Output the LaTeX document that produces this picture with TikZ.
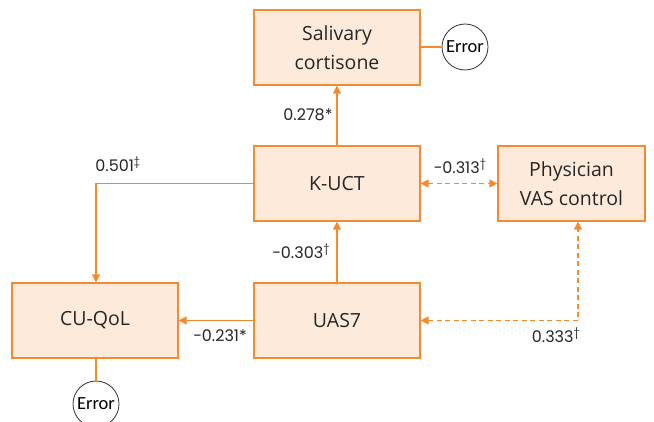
\documentclass[tikz,border=0pt]{standalone}
\usepackage{fontspec}
\setmainfont{Open Sans}
\newfontfamily\labfont{Poppins}
\newfontfamily\errfont{Carlito}
\usetikzlibrary{arrows.meta}
\definecolor{orl}{HTML}{F58A2E}
\definecolor{orf}{HTML}{FDEADB}
\tikzset{
  box/.style={draw=orl, fill=orf, line width=1.2pt, minimum width=166pt, minimum height=75pt, align=center, font=\fontsize{19.5}{29}\selectfont, text=black!85, inner sep=0pt},
  errc/.style={draw=black!80, circle, minimum size=46pt, inner sep=0pt, font=\errfont\fontsize{18.5}{20}\selectfont, line width=0.8pt},
  conn/.style={draw=orl, line width=1.2pt},
  arr/.style={conn, -{Triangle[width=8pt,length=8pt]}},
  darr/.style={conn, dashed, dash pattern=on 5pt off 3.5pt, {Triangle[width=8pt,length=8pt]}-{Triangle[width=8pt,length=8pt]}},
  lab/.style={font=\labfont\fontsize{16}{18}\selectfont, text=black!85, inner sep=0pt}
}
\begin{document}
\begin{tikzpicture}[x=1pt,y=-1pt]
\useasboundingbox (0,0) rectangle (654,422);
\node[box] (sal) at (337,47.5) {Salivary\\cortisone};
\node[box] (kuct) at (337,183.5) {K-UCT};
\node[box, minimum width=147pt] (vas) at (571.5,183.5) {Physician\\VAS control};
\node[box] (qol) at (95,320.5) {CU-QoL};
\node[box] (uas) at (337,320.5) {UAS7};
\node[errc] (e1) at (465,47) {Error};
\node[errc] (e2) at (96,404) {Error};
\coordinate (c1) at (96,183.5);
\coordinate (c2) at (578,320.5);
\draw[arr] (uas) -- (kuct);
\draw[arr] (kuct) -- (sal);
\draw[arr] (kuct.west) -- (c1) -- (qol.north -| c1);
\draw[arr] (uas) -- (qol);
\draw[darr] (kuct) -- (vas);
\draw[darr] (uas.east) -- (c2) -- (vas.south -| c2);
\draw[conn] (sal.east |- e1) -- (e1);
\draw[conn] (qol.south -| e2) -- (e2);
\node[lab] (l1) at (308,115) {0.278*};
\node[lab] (l2) at (118,164) {0.501\textsuperscript{‡}};
\node[lab] (l3) at (460,166) {−0.313\textsuperscript{†}};
\node[lab] (l4) at (301,251) {−0.303\textsuperscript{†}};
\node[lab] (l5) at (220,336) {−0.231*};
\node[lab] (l6) at (556,335) {0.333\textsuperscript{†}};
\end{tikzpicture}
\end{document}
